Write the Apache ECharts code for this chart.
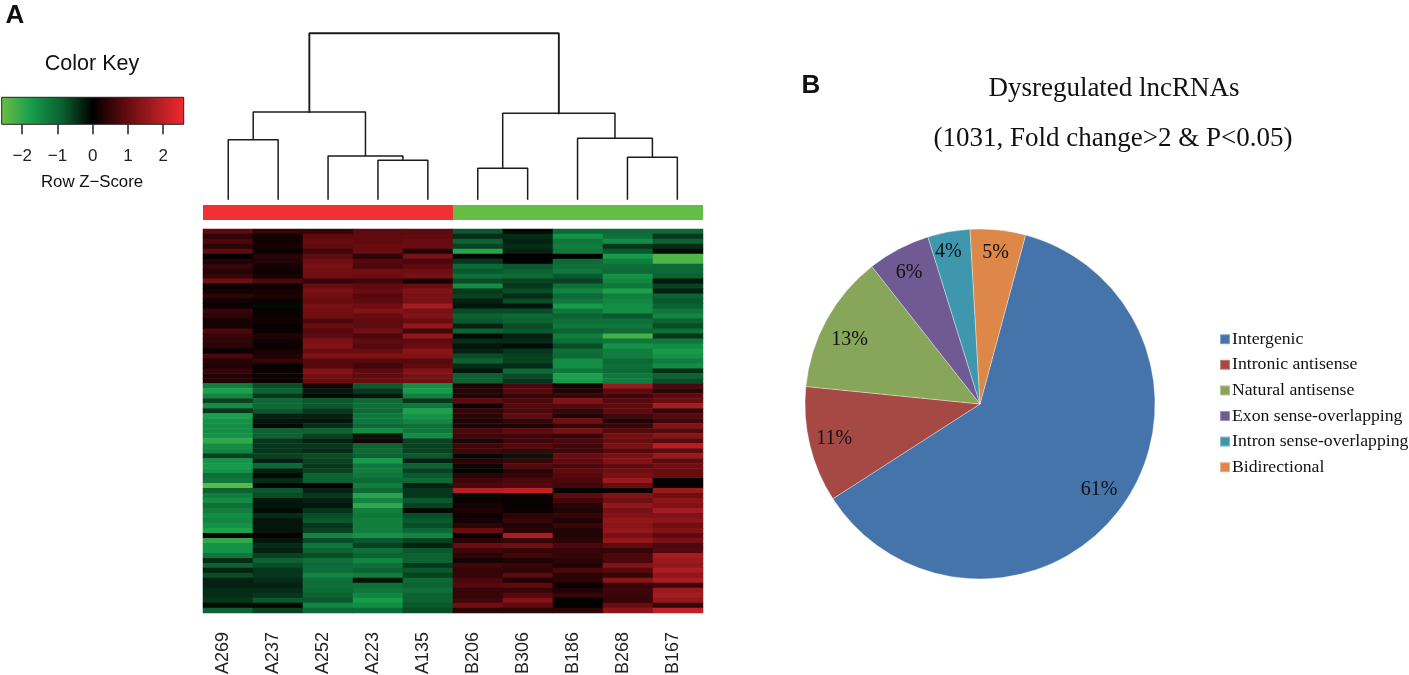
<!DOCTYPE html>
<html><head><meta charset="utf-8">
<style>html,body{margin:0;padding:0;background:#fff}#c{width:1409px;height:675px}</style>
<script src="https://cdn.jsdelivr.net/npm/echarts@6/dist/echarts.min.js"></script>
</head><body><div id="c"></div>
<script>
// ---- Heatmap data: Row Z-scores per sample (31 up-in-A rows, then 46 up-in-B rows)
const samples = ['A269','A237','A252','A223','A135','B206','B306','B186','B268','B167'];
const groups  = ['A','A','A','A','A','B','B','B','B','B'];
const A269 = [.9,.4,.7,.4,.9,0,.3,.5,.35,.5, 1.1,.1,.15,.4,.15,.1,.5,.4,.2,.2, .7,.5,.45,.4,.1,.7,.35,.3,.5,.3, .3,
  -1.3,-1.8,-1.4,-.6,-1.5,-.5,-1.8,-1.6,-1.5,-1.5, -1.6,-2,-1.5,-1.4,-.6,-1.6,-1.7,-1.6,-1.1,-1.2, -2.4,-.9,-1.3,-1.5,-1.1,-1.3,-1.5,-1.4,-1.6,-1.8, .1,-2,-1.6,-1.6,-1.2,-.4,-.9,-.3,-.7,-.3, -.3,-.4,-.4,-.5,-.1,-.9];
const A237 = [.5,.2,.15,.2,.1,.4,.3,.2,.15,.2, .7,.15,.2,.25,.1,-.1,.1,.1,.15,.05, .1,.3,.15,.1,.2,.3,.5,.05,.1,.1, .1,
  -.7,-.9,-.5,-1,-1,-.8,-.3,-.2,-.1,-.9, -.9,-.5,-.5,-.5,-.6,-.3,-1,-.3,-.1,-.4, -.05,-.8,-.7,-.2,-.2,-.1,-.4,-.2,-.2,-.2, .1,-.2,-.4,-.3,-.6,-.9,-.7,-.5,-.5,-.4, -.3,-.4,-.5,-.8,-.05,-.6];
const A252 = [.5,.9,1,.9,.6,.9,1.1,1.2,1.1,1.1, .5,1,1.2,1.1,1,1.2,1.1,1.1,.7,1, .8,.9,1.2,1.3,1,1.3,.8,.8,1.3,1.1, 1,
  .2,-.2,-.1,-.8,-.8,-.5,-.3,-.2,-.4,-.9, -.6,-.3,-.5,-.4,-.7,-.6,-.5,-.6,-.9,-.9, 0,-.3,-.5,-.3,-.2,-.5,-.7,-.8,-.5,-.6, -1.4,-.7,-1.2,-.9,-.7,-1.1,-1,-1.1,-1.4,-1.1, -1.1,-1,-.9,-.8,-1.4,-1];
const A223 = [.9,.9,.9,1,1,.4,.8,.7,1.1,1, .6,.9,1,.8,.9,1.1,1.3,1,.9,.9, 1.1,.7,.9,.8,1,1.3,.8,.6,.9,.9, 1,
  -.8,-.5,-.2,-1,-1.1,-1,-1.2,-1.2,-1,-1.5, -.2,.2,-.9,-1,-.9,-1.7,-1.2,-1.3,-1.2,-1, -1.3,-1,-1.9,-1.4,-2,-1.3,-1.2,-1.3,-1.3,-1.3, -1.6,-.8,-.6,-1.1,-.9,-1.4,-1.1,-.9,-1.3,-.2, -1.1,-1.2,-1.4,-1.7,-1.5,-1];
const A135 = [.9,.9,1,1,.3,1.2,.7,.9,1.1,1.2, .2,1,1.3,1.2,1.2,1.7,1.2,1.3,1,1.5, .6,1.5,.9,1,1.4,1.3,.8,.9,1.3,1.2, 1.1,
  -1.5,-1.7,-1.3,-.5,-1.2,-1.8,-1.6,-1.4,-1.1,-1.2, -1.5,-.6,-.6,-.6,-.8,-.3,-.9,-.6,-.8,-1, -.3,-.5,-.5,-.8,-.6,-.1,-.7,-.8,-.7,-1, -1.4,-.6,-.3,-.8,-.9,-.9,-.5,-.8,-.6,-1, -.9,-1.1,-.9,-.9,-.8,-.7];
const B206 = [-.8,-.4,-.9,-.6,-1.9,-.05,-.5,-1,-.8,-1.1, -.7,-1.5,-.5,-.6,-.3,-.2,-.7,-.9,-.8,-.3, -.9,-.1,-.4,-.2,-.3,-.7,-.9,-.4,-.2,-.9, -.9,
  .3,.35,.3,.9,.1,.5,.4,.3,.3,.7, .6,.3,.6,.6,-.1,.4,.2,-.05,.4,.6, .7,1.9,-.1,.1,.2,.3,.1,.2,.4,1, .1,.4,1,.6,.4,.2,.6,.5,.5,.7, .8,.5,.5,.6,1.1,.4];
const B306 = [-.1,-.4,-.3,-.4,-.3,0,0,-.8,-.9,-1, -.6,-.5,-.7,-.4,-.7,-.2,-.7,-1,-.9,-.7, -.8,-.3,-.4,-.1,-.5,-.6,-.6,-.4,-1,-.7, -.5,
  .7,.8,.5,.7,.8,.7,.9,.5,.3,.9, .6,.6,.8,.5,-.2,.5,.8,.4,.5,.7, .8,2,.1,.1,.05,.1,.4,.5,.3,.4, 1.8,.5,1.1,.5,.6,.3,.5,.4,.9,.3, .9,.5,.8,1.3,.9,.4];
const B186 = [-1,-1.6,-1.2,-1.3,-1.2,0,-1,-1.1,-1.2,-.8, -.6,-1.1,-1.4,-1,-1.2,-1.7,-1.2,-.9,-1.1,-1.2, -.9,-1.3,-1.1,-.7,-1.1,-1,-1.5,-1.5,-1.2,-1.8, -1.7,
  .2,.3,.5,1.3,.8,.5,.3,1.1,.5,1.2, .5,.7,.6,.6,1,.9,.7,.9,.8,.7, .6,0,.9,.6,.4,.3,.5,.3,.5,.3, .3,.4,.7,.5,.5,.4,.3,.7,.4,.4, .1,.3,.5,.05,0,.4];
const B268 = [-1,-1.1,-1.5,-.5,-.8,-1.7,-1.3,-1.1,-1,-1.6, -1.4,-1.2,-1.8,-1.3,-1.4,-1.5,-1.5,-.8,-1.1,-1.2, -1,-2.2,-1.2,-1.6,-1.3,-1.3,-1,-1.1,-1,-1.2, -1.3,
  1.6,.9,.6,.8,.9,.9,.6,.3,.5,.8, 1.1,1,1.2,.8,1.2,1.3,.9,1.1,1.2,1.6, 1,.1,1.3,1.1,1.5,1.2,1.3,1.5,1.4,1.5, 1.2,1.5,.9,.5,.7,.7,1.3,.8,.5,1.4, .5,.6,.5,.5,1,1.4];
const B167 = [-1,-.5,-.9,-.4,-.1,-2.3,-2.3,-1,-1,-.9, -.2,-.6,-.3,-.9,-.8,-.9,-1.2,-1.4,-.9,-.7, -1.1,-.5,-1.2,-1.5,-1.7,-1.6,-1.3,-1.5,-.4,-.9, -.7,
  .7,.4,.9,1,1.7,.5,.8,.6,1.3,.8, 1.4,.8,1.9,.9,1.6,.9,1.1,1,1,.05, .05,1.6,1.1,1.4,1.3,1.7,1.3,1.4,1.1,1.3, .9,1.2,.7,.8,1.7,1.6,1.5,1.8,1.5,1.8, .6,1.6,1.7,1.5,.5,2];
const columns = [A269,A237,A252,A223,A135,B206,B306,B186,B268,B167];

// ---- Colour key
const keyColors = ['#6cbf45','#169c4c','#0b5f30','#000000','#5c090d','#a41c20','#f02a2e'];
const keyTicks  = [-2,-1,0,1,2];
const keyLimit  = 2.58;

// ---- Dendrogram: leaves are sample indexes, nodes are [left, right, height]; ids >= 10 refer to earlier merges
const merges = [[0,1,59.3],[3,4,38.7],[2,11,43],[10,12,87],[5,6,30.7],[8,9,41.7],[7,15,60.7],[14,16,85.7],[13,17,165.7]];

// ---- Pie
const pieNames  = ['Intergenic','Intronic antisense','Natural antisense','Exon sense-overlapping','Intron sense-overlapping','Bidirectional'];
const pieShares = [61.7,10.7,12.8,5.8,3.9,5.1];
const pieLabels = ['61%','11%','13%','6%','4%','5%'];
const pieColors = ['#4474a9','#a64844','#88a65a','#705a93','#3f97ad','#dd8748'];

// ---- Derived
const rowCount = A269.length;
const rows = Array.from({length:rowCount},(_,i)=>i);
const heatData = [];
columns.forEach((c,x)=>c.forEach((v,y)=>heatData.push([x,y,v])));

const pos = samples.map((_,i)=>i+0.5), hgt = samples.map(()=>0);
const branchSeg = [], rootSeg = [];
merges.forEach((m,i)=>{
  const [a,b,h]=m, t=i===merges.length-1?rootSeg:branchSeg;
  t.push([pos[a],hgt[a]],[pos[a],h],[pos[b],h],[pos[b],hgt[b]],['-','-']);
  pos.push((pos[a]+pos[b])/2); hgt.push(h);
});

const SANS='"Liberation Sans",Arial,sans-serif', SERIF='"Liberation Serif","Times New Roman",serif';
const dark='#1c1c1c';
const chart = echarts.init(document.getElementById('c'),null,{renderer:'canvas'});
const title=(text,x,y,size,family,weight)=>({text,left:x,top:y,padding:0,textAlign:'center',textVerticalAlign:'middle',
  textStyle:{color:'#111',fontFamily:family,fontSize:size,fontWeight:weight||'normal',lineHeight:size}});
const pieBase={type:'pie',center:[980,404],startAngle:74.9,animation:false,silent:true,clockwise:true,
  data:pieNames.map((n,i)=>({name:n,value:pieShares[i]})),minAngle:0,avoidLabelOverlap:false};
const labelNudge=[[-2,-3],[0,0],[1,8],[-1,2],[-5,-5],[0,-2]];

chart.setOption({
  animation:false,
  backgroundColor:'#fff',
  title:[
    title('A',15,16,26,SANS,'bold'),
    title('B',811,86,26,SANS,'bold'),
    title('Color Key',92,64,21.5,SANS),
    title('Row Z\u2212Score',92,182.5,16.8,SANS),
    title('Dysregulated lncRNAs',1114,89,27,SERIF),
    title('(1031, Fold change>2 & P<0.05)',1113,139,27,SERIF)
  ],
  grid:[
    {left:203,top:229,width:500,height:384,outerBoundsMode:'none'},
    {left:203,top:205,width:500,height:15,outerBoundsMode:'none'},
    {left:203.3,top:33,width:499,height:166,outerBoundsMode:'none'},
    {left:1.7,top:97.3,width:182,height:27,outerBoundsMode:'none',show:true,borderColor:'#222',borderWidth:1,
     backgroundColor:new echarts.graphic.LinearGradient(0,0,1,0,keyColors.map((color,i)=>({offset:i/(keyColors.length-1),color})))}
  ],
  xAxis:[
    {gridIndex:0,type:'category',data:samples,axisLine:{show:false},axisTick:{show:false},splitLine:{show:false},
     axisLabel:{rotate:90,color:'#222',margin:19,interval:0,hideOverlap:false,
       formatter:v=>'{a|'+v+'}\n{b| }',
       rich:{a:{fontFamily:SANS,fontSize:18,color:'#222',lineHeight:20},b:{fontSize:8,lineHeight:10}}}},
    {gridIndex:1,type:'category',data:samples,show:false},
    {gridIndex:2,type:'value',min:0,max:10,show:false,splitLine:{show:false}},
    {gridIndex:3,type:'value',min:-keyLimit,max:keyLimit,position:'bottom',splitLine:{show:false},axisLine:{show:false},
     axisTick:{show:true,length:10,customValues:keyTicks,lineStyle:{color:'#222',width:1.5}},
     axisLabel:{customValues:keyTicks,margin:24,fontFamily:SANS,fontSize:17,color:'#222',formatter:v=>String(v).replace('-','\u2212')}}
  ],
  yAxis:[
    {gridIndex:0,type:'category',data:rows,inverse:true,show:false},
    {gridIndex:1,type:'value',min:0,max:1,show:false},
    {gridIndex:2,type:'value',min:0,max:166,show:false,splitLine:{show:false}},
    {gridIndex:3,type:'value',min:0,max:1,show:false,splitLine:{show:false}}
  ],
  visualMap:{show:false,type:'continuous',seriesIndex:0,min:-keyLimit,max:keyLimit,dimension:2,inRange:{color:keyColors}},
  legend:{orient:'vertical',left:1219,top:330,padding:0,itemWidth:10,itemHeight:10,itemGap:7.2,icon:'rect',selectedMode:false,
    data:pieNames,textStyle:{fontFamily:SERIF,fontSize:17.7,color:'#111',padding:[0,0,0,-3],lineHeight:18.4,height:18.4}},
  series:[
    {type:'heatmap',xAxisIndex:0,yAxisIndex:0,data:heatData,progressive:0,animation:false,itemStyle:{borderWidth:0}},
    {type:'bar',xAxisIndex:1,yAxisIndex:1,barCategoryGap:0,barWidth:'100%',animation:false,silent:true,
     data:groups.map(g=>({value:1,itemStyle:{color:g==='A'?'#f03032':'#66bd46'}}))},
    {type:'line',xAxisIndex:2,yAxisIndex:2,data:branchSeg,symbol:'none',connectNulls:false,clip:false,animation:false,silent:true,
     lineStyle:{color:dark,width:1.5,cap:'square'}},
    {type:'line',xAxisIndex:2,yAxisIndex:2,data:rootSeg,symbol:'none',connectNulls:false,clip:false,animation:false,silent:true,
     lineStyle:{color:dark,width:1.9,cap:'square'}},
    Object.assign({},pieBase,{radius:[0,175],label:{show:false},labelLine:{show:false},
      itemStyle:{borderColor:'rgba(255,255,255,0.35)',borderWidth:1},
      color:pieColors}),
    Object.assign({},pieBase,{radius:[119,175],color:pieColors,legendHoverLink:false,
      itemStyle:{color:'transparent',borderWidth:0},labelLine:{show:false},
      labelLayout:p=>({dx:labelNudge[p.dataIndex][0],dy:labelNudge[p.dataIndex][1]}),
      label:{show:true,position:'inside',fontFamily:SERIF,fontSize:20,color:'#111',
        formatter:p=>pieLabels[p.dataIndex]}})
  ]
});
</script></body></html>
